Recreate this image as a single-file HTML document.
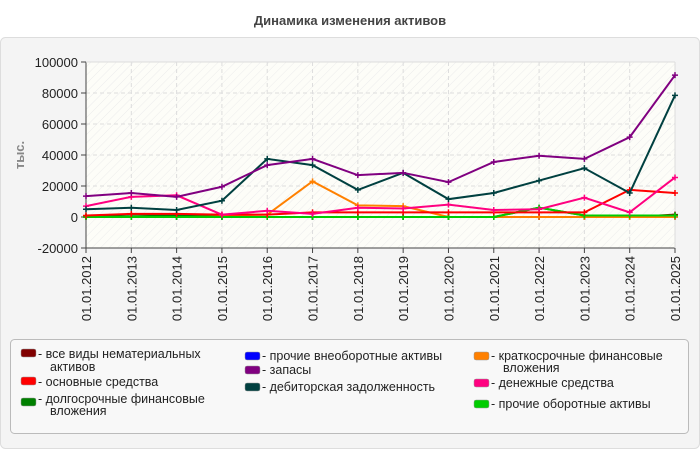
<!DOCTYPE html>
<html><head><meta charset="utf-8"><style>
body{margin:0;width:700px;height:450px;background:#fff;font-family:"Liberation Sans",sans-serif;overflow:hidden}
</style></head><body>
<svg id="s" width="700" height="450" xmlns="http://www.w3.org/2000/svg" font-family="Liberation Sans, sans-serif">
<defs><pattern id="h" width="6" height="6" patternUnits="userSpaceOnUse" patternTransform="rotate(45)"><rect width="6" height="6" fill="#fdfdf8"/><line x1="0" y1="0" x2="0" y2="6" stroke="#ececec" stroke-width="1"/></pattern></defs>
<text x="350" y="25" text-anchor="middle" font-size="13" font-weight="bold" fill="#444">Динамика изменения активов</text>
<rect x="0.5" y="37.5" width="699" height="411" rx="5" fill="#f4f4f4" stroke="#ddd"/>
<rect x="86" y="62" width="589" height="186" fill="url(#h)"/>
<g id="g"></g>
<text transform="translate(24,155) rotate(-90)" text-anchor="middle" font-size="13" font-weight="bold" fill="#888">тыс.</text>
<rect x="10.5" y="339.5" width="678" height="94" rx="4" fill="#f8f8f8" stroke="#bbb"/>
<g font-size="12.5" fill="#222">
<rect x="21" y="349" width="15" height="8" rx="2" fill="#800000" stroke="#999" stroke-width=".5"/><text x="38" y="358">- все виды нематериальных</text><text x="50" y="371">активов</text>
<rect x="21" y="377" width="15" height="8" rx="2" fill="#ff0000" stroke="#999" stroke-width=".5"/><text x="38" y="386">- основные средства</text>
<rect x="21" y="398" width="15" height="8" rx="2" fill="#008000" stroke="#999" stroke-width=".5"/><text x="38" y="403">- долгосрочные финансовые</text><text x="50" y="415">вложения</text>
<rect x="245" y="352" width="15" height="8" rx="2" fill="#0000ff" stroke="#999" stroke-width=".5"/><text x="262" y="360">- прочие внеоборотные активы</text>
<rect x="245" y="366" width="15" height="8" rx="2" fill="#800080" stroke="#999" stroke-width=".5"/><text x="262" y="374">- запасы</text>
<rect x="245" y="383" width="15" height="8" rx="2" fill="#004040" stroke="#999" stroke-width=".5"/><text x="262" y="391">- дебиторская задолженность</text>
<rect x="474" y="352" width="15" height="8" rx="2" fill="#ff8000" stroke="#999" stroke-width=".5"/><text x="491" y="360">- краткосрочные финансовые</text><text x="503" y="372">вложения</text>
<rect x="474" y="379" width="15" height="8" rx="2" fill="#ff0080" stroke="#999" stroke-width=".5"/><text x="491" y="387">- денежные средства</text>
<rect x="474" y="400" width="15" height="8" rx="2" fill="#00cc00" stroke="#999" stroke-width=".5"/><text x="491" y="408">- прочие оборотные активы</text>
</g>
</svg>
<script>
var g=document.getElementById('g'),ns='http://www.w3.org/2000/svg',h='';
function X(i){return 86+i*589/13}function Y(v){return 217-v*31/20000}
for(var v=-20000;v<=100000;v+=20000){var y=Y(v);
 if(v>-20000&&v<100000)h+='<line x1="86" x2="675" y1="'+y+'" y2="'+y+'" stroke="#ddd" stroke-dasharray="4,3"/>';
 h+='<line x1="81" x2="86" y1="'+y+'" y2="'+y+'" stroke="#444"/><text x="78" y="'+(y+5)+'" text-anchor="end" font-size="13" fill="#222">'+v+'</text>';}
for(var i=0;i<14;i++){var x=X(i);
 if(i>0&&i<13)h+='<line x1="'+x+'" x2="'+x+'" y1="62" y2="248" stroke="#ddd" stroke-dasharray="4,3"/>';
 h+='<line x1="'+x+'" x2="'+x+'" y1="248" y2="253" stroke="#444"/><text transform="translate('+(x+5)+',256) rotate(-90)" text-anchor="end" font-size="13" fill="#222">01.01.'+(2012+i)+'</text>';}
h+='<line x1="86" x2="86" y1="62" y2="248" stroke="#444"/><line x1="86" x2="675" y1="248" y2="248" stroke="#444"/><line x1="675" x2="675" y1="62" y2="248" stroke="#ddd"/><line x1="86" x2="675" y1="62" y2="62" stroke="#ddd"/>';
var S=[
['#800000',[0,0,0,0,0,0,0,0,0,0,0,0,0,1500]],
['#0000ff',[0,0,0,0,0,0,0,0,0,0,0,0,0,0]],
['#ff8000',[0,0,500,1000,1500,23000,7500,7000,0,0,0,0,0,0]],
['#008000',[500,1500,1000,0,0,0,0,0,0,0,6000,1000,1000,1000]],
['#00cc00',[0,0,0,0,0,0,0,0,0,0,6000,1000,1000,1000]],
['#ff0000',[1000,2000,2000,1500,1500,3000,3000,3000,3000,3000,3000,3000,17500,15500]],
['#ff0080',[7000,13000,14000,1500,4000,2000,6000,5500,8000,4500,5000,12500,3000,25500]],
['#004040',[5000,6000,4500,10500,37500,33500,17500,28500,11500,15500,23500,31500,15500,78500]],
['#800080',[13500,15500,13000,19500,33500,37500,27000,28500,22500,35500,39500,37500,51500,91500]]];
S.forEach(function(s){var p=s[1].map(function(v,i){return X(i)+','+Y(v)}).join(' ');
 h+='<polyline points="'+p+'" fill="none" stroke="'+s[0]+'" stroke-width="2"/>';
 s[1].forEach(function(v,i){var x=X(i),y=Y(v);h+='<path d="M'+(x-3)+' '+y+'h6M'+x+' '+(y-3)+'v6" stroke="'+s[0]+'" stroke-width="1.5"/>';});});
g.innerHTML=h;
</script>
</body></html>
